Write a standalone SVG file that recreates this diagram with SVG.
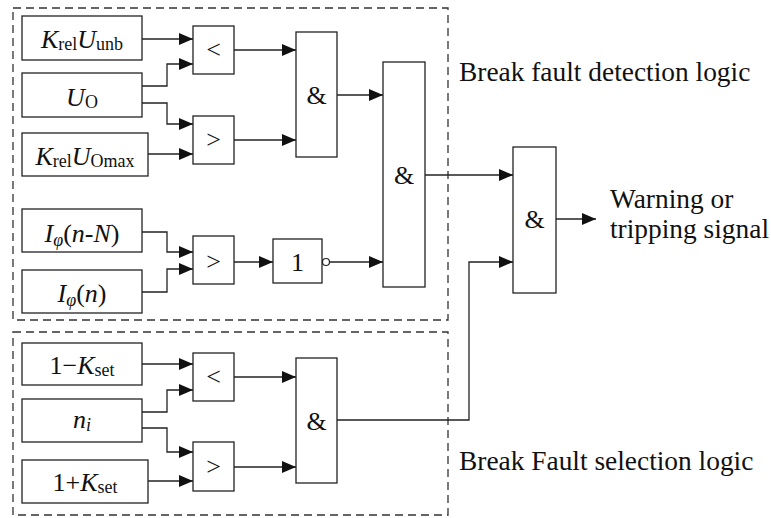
<svg xmlns="http://www.w3.org/2000/svg" width="771" height="518" viewBox="0 0 771 518" font-family="'Liberation Serif', 'DejaVu Serif', serif">
<style>
.box{fill:#fff;stroke:#222;stroke-width:1.3}
.dash{fill:none;stroke:#333;stroke-width:1.3;stroke-dasharray:8,5}
.w{fill:none;stroke:#222;stroke-width:1.3}
text{font-family:'Liberation Serif','DejaVu Serif',serif;fill:#111}
.t{font-size:26px;text-anchor:middle}
.s{font-size:18px;font-style:normal}
.i{font-style:italic}
.lbl{font-size:27.4px}
</style>
<defs>
<marker id="ah" viewBox="0 0 14 12" refX="14" refY="6" markerWidth="14" markerHeight="12" markerUnits="userSpaceOnUse" orient="auto">
<path d="M0,0 L14,6 L0,12 z" fill="#111"/>
</marker>
</defs>
<rect class="dash" x="13" y="8" width="435" height="312"/>
<rect class="dash" x="13" y="332" width="435" height="183"/>
<g id="connectors">
<path class="w" d="M142,39 H193" marker-end="url(#ah)"/>
<path class="w" d="M142,86 H167 V64 H193" marker-end="url(#ah)"/>
<path class="w" d="M142,103 H167 V124 H193" marker-end="url(#ah)"/>
<path class="w" d="M148,154 H193" marker-end="url(#ah)"/>
<path class="w" d="M234,50 H296" marker-end="url(#ah)"/>
<path class="w" d="M234,140 H296" marker-end="url(#ah)"/>
<path class="w" d="M337,95 H383" marker-end="url(#ah)"/>
<path class="w" d="M142,232 H167 V252 H193" marker-end="url(#ah)"/>
<path class="w" d="M142,292 H167 V269 H193" marker-end="url(#ah)"/>
<path class="w" d="M234,262 H273" marker-end="url(#ah)"/>
<circle cx="326" cy="262" r="3.5" fill="#fff" stroke="#222" stroke-width="1.2"/>
<path class="w" d="M329.5,262 H383" marker-end="url(#ah)"/>
<path class="w" d="M425,175 H513" marker-end="url(#ah)"/>
<path class="w" d="M142,364 H193" marker-end="url(#ah)"/>
<path class="w" d="M142,412 H167 V390 H193" marker-end="url(#ah)"/>
<path class="w" d="M142,428 H167 V452 H193" marker-end="url(#ah)"/>
<path class="w" d="M148,481 H193" marker-end="url(#ah)"/>
<path class="w" d="M234,377 H296" marker-end="url(#ah)"/>
<path class="w" d="M234,467 H296" marker-end="url(#ah)"/>
<path class="w" d="M337,420 H469 V262 H513" marker-end="url(#ah)"/>
<path class="w" d="M556,219 H596" marker-end="url(#ah)"/>
</g>
<g id="in1"><rect class="box" x="22" y="16" width="120" height="44"/>
<text class="t" x="82" y="48"><tspan class="i">K</tspan><tspan class="s" dy="2">rel</tspan><tspan class="i" dy="-2">U</tspan><tspan class="s" dy="2">unb</tspan></text></g>
<g id="in2"><rect class="box" x="22" y="73" width="120" height="44"/>
<text class="t" x="82" y="106"><tspan class="i">U</tspan><tspan class="s" dy="2">O</tspan></text></g>
<g id="in3"><rect class="box" x="22" y="133" width="126" height="43"/>
<text class="t" x="85" y="165"><tspan class="i">K</tspan><tspan class="s" dy="2">rel</tspan><tspan class="i" dy="-2">U</tspan><tspan class="s" dy="2">Omax</tspan></text></g>
<g id="cmp1"><rect class="box" x="193" y="26" width="41" height="48"/><text class="t" x="213.5" y="58">&lt;</text></g>
<g id="cmp2"><rect class="box" x="193" y="116" width="41" height="48"/><text class="t" x="213.5" y="148">&gt;</text></g>
<g id="and1"><rect class="box" x="296" y="32" width="41" height="125"/><text class="t" x="316.5" y="104">&amp;</text></g>
<g id="and2"><rect class="box" x="383" y="62" width="42" height="225"/><text class="t" x="404" y="184">&amp;</text></g>
<g id="in4"><rect class="box" x="22" y="209" width="120" height="43"/>
<text class="t" x="82" y="242"><tspan class="i">I</tspan><tspan class="s i" dy="4">φ</tspan><tspan dy="-4">(</tspan><tspan class="i">n</tspan>-<tspan class="i">N</tspan>)</text></g>
<g id="in5"><rect class="box" x="22" y="270" width="120" height="43"/>
<text class="t" x="82" y="302"><tspan class="i">I</tspan><tspan class="s i" dy="4">φ</tspan><tspan dy="-4">(</tspan><tspan class="i">n</tspan>)</text></g>
<g id="cmp3"><rect class="box" x="193" y="236" width="41" height="48"/><text class="t" x="213.5" y="270">&gt;</text></g>
<g id="not1"><rect class="box" x="273" y="239" width="49" height="44"/><text class="t" x="297.5" y="271">1</text></g>
<g id="in6"><rect class="box" x="22" y="343" width="120" height="42"/>
<text class="t" x="82" y="374">1−<tspan class="i">K</tspan><tspan class="s" dy="2">set</tspan></text></g>
<g id="in7"><rect class="box" x="22" y="399" width="120" height="43"/>
<text class="t" x="82" y="428"><tspan class="i">n</tspan><tspan class="s i" dy="3">i</tspan></text></g>
<g id="in8"><rect class="box" x="22" y="460" width="126" height="43"/>
<text class="t" x="85" y="491">1+<tspan class="i">K</tspan><tspan class="s" dy="2">set</tspan></text></g>
<g id="cmp4"><rect class="box" x="193" y="353" width="41" height="48"/><text class="t" x="213.5" y="385">&lt;</text></g>
<g id="cmp5"><rect class="box" x="193" y="442" width="41" height="49"/><text class="t" x="213.5" y="475">&gt;</text></g>
<g id="and3"><rect class="box" x="296" y="358" width="41" height="125"/><text class="t" x="316.5" y="430">&amp;</text></g>
<g id="and4"><rect class="box" x="513" y="147" width="43" height="146"/><text class="t" x="534.5" y="228">&amp;</text></g>
<g id="labels">
<text class="lbl" x="459" y="81">Break fault detection logic</text>
<text class="lbl" x="459" y="470">Break Fault selection logic</text>
<text class="lbl" x="610" y="208">Warning or</text>
<text class="lbl" x="610" y="238">tripping signal</text>
</g>
</svg>
